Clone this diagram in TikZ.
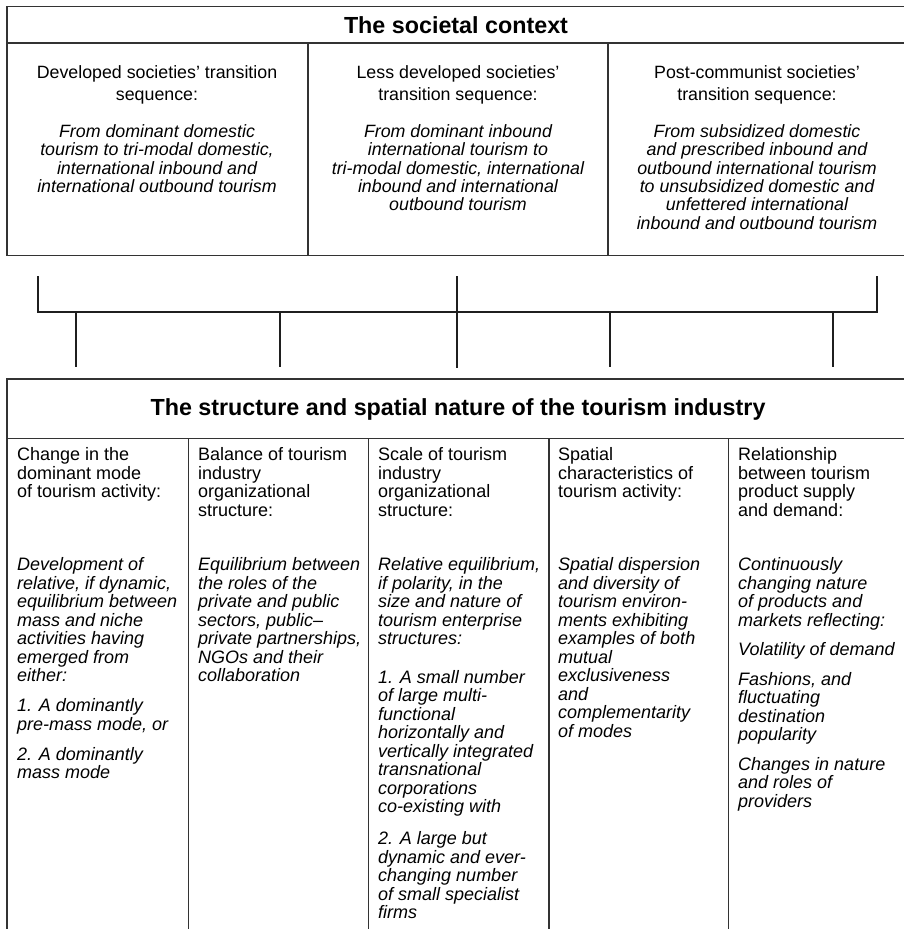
\documentclass[tikz,border=0pt]{standalone}
\usepackage{fontspec}
\setmainfont{Liberation Sans}
\begin{document}
\begin{tikzpicture}[x=1pt,y=-1pt,
  boxline/.style={line width=1.3pt, draw=black!80},
  bracketline/.style={line width=2pt, draw=black!88, line cap=butt},
  ttl/.style={font=\fontsize{23.3}{27}\selectfont\bfseries, inner sep=0pt},
  toph/.style={font=\fontsize{17.8}{22.7}\selectfont, align=center, anchor=north, inner sep=0pt},
  topi/.style={font=\fontsize{17.8}{18.3}\selectfont\itshape, align=center, anchor=north, inner sep=0pt},
  both/.style={font=\fontsize{18}{18.5}\selectfont, align=left, anchor=north west, inner sep=0pt},
  boti/.style={font=\fontsize{18}{18.5}\selectfont\itshape, align=left, anchor=north west, inner sep=0pt}]
\useasboundingbox (0,0) rectangle (904,929);
\fill[white] (0,0) rectangle (904,929);

% ---------- top box ----------
\draw[boxline] (904,6.5) -- (7,6.5) -- (7,255.5) -- (904,255.5);
\draw[boxline] (7,43) -- (904,43);
\draw[boxline] (308,43) -- (308,255.5);
\draw[boxline] (608,43) -- (608,255.5);
\node[ttl] (t0) at (456,25) {The societal context};

\node[toph] (t1h) at (157,65) {Developed societies' transition\\sequence:};
\node[topi] (t1i) at (157,124.4) {From dominant domestic\\tourism to tri-modal domestic,\\international inbound and\\international outbound tourism};

\node[toph] (t2h) at (458,65) {Less developed societies'\\transition sequence:};
\node[topi] (t2i) at (458,124.4) {From dominant inbound\\international tourism to\\tri-modal domestic, international\\inbound and international\\outbound tourism};

\node[toph] (t3h) at (757,65) {Post-communist societies'\\transition sequence:};
\node[topi] (t3i) at (757,124.4) {From subsidized domestic\\and prescribed inbound and\\outbound international tourism\\to unsubsidized domestic and\\unfettered international\\inbound and outbound tourism};

% ---------- bracket connector ----------
\coordinate (uL) at (38,276);
\coordinate (uM) at (457,276);
\coordinate (uR) at (877,276);
\coordinate (bL) at (38,312);
\coordinate (bM) at (457,312);
\coordinate (bR) at (877,312);
\coordinate (d1a) at (76,312);   \coordinate (d1) at (76,367);
\coordinate (d2a) at (280,312);  \coordinate (d2) at (280,367);
\coordinate (d3) at (457,368);
\coordinate (d4a) at (610,312);  \coordinate (d4) at (610,367);
\coordinate (d5a) at (833,312);  \coordinate (d5) at (833,367);
\draw[bracketline] (uL) -- (bL) -- (bR) -- (uR);
\draw[bracketline] (uM) -- (d3);
\draw[bracketline] (d1a) -- (d1);
\draw[bracketline] (d2a) -- (d2);
\draw[bracketline] (d4a) -- (d4);
\draw[bracketline] (d5a) -- (d5);

% ---------- bottom box ----------
\draw[boxline] (7,929) -- (7,379) -- (904,379);
\draw[boxline] (7,438.5) -- (904,438.5);
\draw[boxline] (188.3,438.5) -- (188.3,929);
\draw[boxline] (368.3,438.5) -- (368.3,929);
\draw[boxline] (549,438.5) -- (549,929);
\draw[boxline] (728.7,438.5) -- (728.7,929);
\node[ttl] (b0) at (458,409) {The structure and spatial nature of the tourism industry};

\node[both] (c1h) at (17,447.3) {Change in the\\dominant mode\\of tourism activity:};
\node[boti] (c1i) at (17,557.3) {Development of\\relative, if dynamic,\\equilibrium between\\mass and niche\\activities having\\emerged from\\either:\\[11.5pt]1. A dominantly\\pre-mass mode, or\\[11.5pt]2. A dominantly\\mass mode};

\node[both] (c2h) at (198,447.3) {Balance of tourism\\industry\\organizational\\structure:};
\node[boti] (c2i) at (198,557.3) {Equilibrium between\\the roles of the\\private and public\\sectors, public–\\private partnerships,\\NGOs and their\\collaboration};

\node[both] (c3h) at (378,447.3) {Scale of tourism\\industry\\organizational\\structure:};
\node[boti] (c3i) at (378,557.3) {Relative equilibrium,\\if polarity, in the\\size and nature of\\tourism enterprise\\structures:\\[20pt]1. A small number\\of large multi-\\functional\\horizontally and\\vertically integrated\\transnational\\corporations\\co-existing with\\[13.5pt]2. A large but\\dynamic and ever-\\changing number\\of small specialist\\firms};

\node[both] (c4h) at (558,447.3) {Spatial\\characteristics of\\tourism activity:};
\node[boti] (c4i) at (558,557.3) {Spatial dispersion\\and diversity of\\tourism environ-\\ments exhibiting\\examples of both\\mutual\\exclusiveness\\and\\complementarity\\of modes};

\node[both] (c5h) at (738,447.3) {Relationship\\between tourism\\product supply\\and demand:};
\node[boti] (c5i) at (738,557.3) {Continuously\\changing nature\\of products and\\markets reflecting:\\[11pt]Volatility of demand\\[11pt]Fashions, and\\fluctuating\\destination\\popularity\\[11pt]Changes in nature\\and roles of\\providers};
\end{tikzpicture}
\end{document}
